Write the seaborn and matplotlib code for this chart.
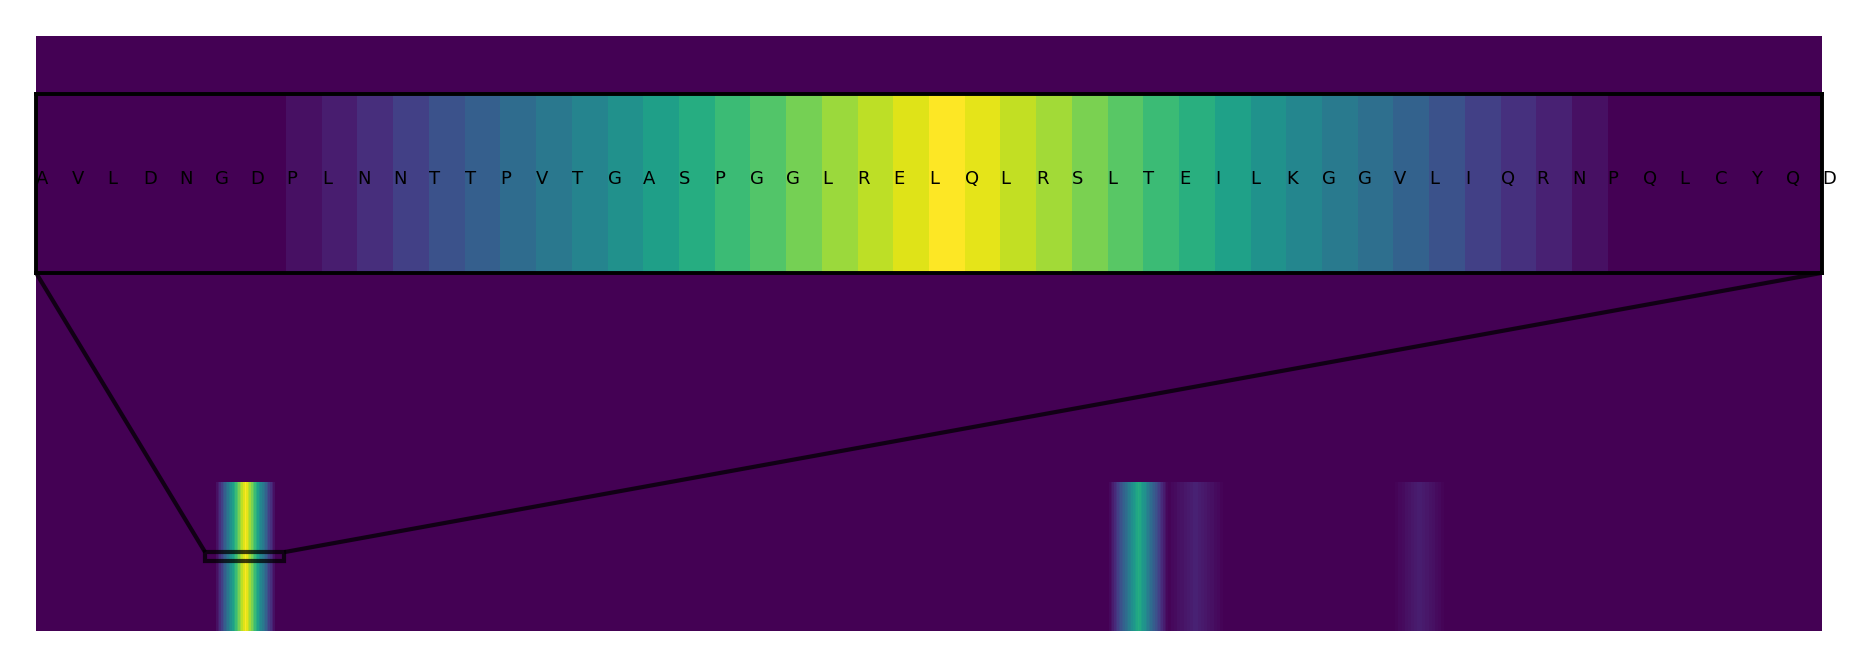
import matplotlib
matplotlib.use("Agg")
import matplotlib.pyplot as plt
import numpy as np
import seaborn as sns
from mpl_toolkits.axes_grid1.inset_locator import mark_inset

sns.set_theme(style="white")
plt.rcParams["font.family"] = ["DejaVu Sans"]

# sequence length and the zoomed window (residue indices)
seq_length = 1130
window_start = 107
window_residues = list("AVLDNGDPLNNTTPVTGASPGGLRELQLRSLTEILKGGVLIQRNPQLCYQD")

# attention bands: (start index, values)
band1_start = 114
band1_values = [0.04, 0.08, 0.13, 0.19, 0.25, 0.30, 0.35, 0.40, 0.45, 0.50,
                0.56, 0.62, 0.68, 0.73, 0.79, 0.85, 0.90, 0.95, 1.00, 0.96,
                0.91, 0.86, 0.80, 0.74, 0.68, 0.63, 0.57, 0.51, 0.46, 0.41,
                0.36, 0.31, 0.25, 0.19, 0.14, 0.09, 0.04]
band2_start = 679
band2_values = [0.02, 0.05, 0.08, 0.12, 0.15, 0.19, 0.22, 0.25, 0.28, 0.31,
                0.35, 0.38, 0.42, 0.45, 0.49, 0.53, 0.56, 0.59, 0.62, 0.60,
                0.56, 0.53, 0.50, 0.46, 0.42, 0.39, 0.35, 0.32, 0.29, 0.25,
                0.22, 0.19, 0.15, 0.12, 0.08, 0.05, 0.02]
band3_start = 716
band3_values = [0.01, 0.01, 0.02, 0.02, 0.03, 0.03, 0.04, 0.04, 0.05, 0.05,
                0.06, 0.06, 0.07, 0.07, 0.08, 0.08, 0.09, 0.09, 0.09, 0.08,
                0.08, 0.07, 0.07, 0.06, 0.06, 0.05, 0.05, 0.04, 0.04, 0.03,
                0.03, 0.02, 0.02, 0.01, 0.01]
band4_start = 860
band4_values = [0.01, 0.01, 0.02, 0.02, 0.03, 0.03, 0.04, 0.04, 0.05, 0.05,
                0.06, 0.06, 0.07, 0.07, 0.08, 0.08, 0.08, 0.07, 0.07, 0.06,
                0.06, 0.05, 0.05, 0.04, 0.04, 0.03, 0.03, 0.02, 0.02, 0.01,
                0.01]

attention = np.zeros((1, seq_length))
for start, vals in [(band1_start, band1_values), (band2_start, band2_values),
                    (band3_start, band3_values), (band4_start, band4_values)]:
    attention[0, start:start + len(vals)] = vals

cmap = plt.get_cmap("viridis")

fig = plt.figure(figsize=(18.72, 6.67), dpi=100)
ax = fig.add_axes([0.01923, 0.054, 0.9541, 0.892])
sns.heatmap(attention, ax=ax, cmap="viridis", vmin=0, vmax=1, cbar=False,
            xticklabels=False, yticklabels=False)
ax.set_facecolor(cmap(0.0))
ax.set_ylim(1, -3)
ax.set_xlim(0, seq_length)

# zoomed inset with residue letters
axins = ax.inset_axes([0, 0.602, 1, 0.30])
sns.heatmap(attention, ax=axins, cmap="viridis", vmin=0, vmax=1, cbar=False,
            xticklabels=False, yticklabels=False)
axins.set_xlim(window_start, window_start + len(window_residues) - 1)
axins.set_ylim(0.53, 0.47)
for spine in axins.spines.values():
    spine.set_visible(True)
    spine.set_color("black")
    spine.set_linewidth(2.8)
for i, aa in enumerate(window_residues):
    axins.text(window_start + i, 0.5, aa, fontsize=13, color="black")

mark_inset(ax, axins, loc1=3, loc2=4, fc="none", ec="black", lw=3, alpha=0.75)

fig.savefig("out.png", dpi=100)
